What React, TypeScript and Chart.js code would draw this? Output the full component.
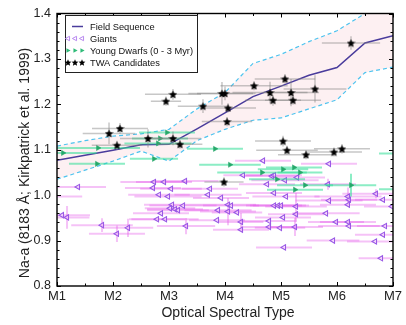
import React, { useEffect, useRef } from 'react';
import { Chart, registerables } from 'chart.js';

Chart.register(...registerables);

// ---------- axes ----------
const xTickValues = [1, 2, 3, 4, 5, 6, 7];
const xTickLabels = ['M1', 'M2', 'M3', 'M4', 'M5', 'M6', 'M7'];
const yTickValues = [0.8, 0.9, 1.0, 1.1, 1.2, 1.3, 1.4];

// ---------- field sequence and its envelope ----------
const fieldX = [1, 1.5, 2, 2.5, 3, 3.5, 4, 4.5, 5, 5.5, 6, 6.5, 7];
const fieldY = [1.077, 1.088, 1.099, 1.111, 1.112, 1.146, 1.181, 1.217, 1.24, 1.264, 1.281, 1.335, 1.351];
const upperY = [1.108, 1.12, 1.13, 1.135, 1.145, 1.19, 1.226, 1.29, 1.31, 1.338, 1.362, 1.4, 1.43];
const lowerY = [1.035, 1.055, 1.075, 1.097, 1.075, 1.12, 1.145, 1.165, 1.17, 1.19, 1.21, 1.27, 1.282];

// ---------- giants ----------
const giantX = [
  1.089, 1.179, 1.375, 1.804, 2.268, 2.071, 2.732, 2.911, 3.286, 2.714,
  3.036, 3.732, 2.821, 2.982, 3.696, 3.929, 3.054, 3.25, 3.018, 3.107,
  3.161, 3.875, 4.054, 4.054, 2.857, 2.786, 2.929, 3.857, 3.304, 0.9,
  4.679, 5.857, 4.321, 4.839, 4.875, 5.286, 4.75, 5.071, 5.839, 4.875,
  5.089, 4.107, 4.214, 6.196, 6.214, 6.696, 6.821, 5.857, 4.875, 4.946,
  5.0, 5.268, 5.804, 5.268, 5.036, 4.286, 4.786, 5.982, 6.196, 5.25,
  4.786, 4.982, 6.214, 4.286, 5.929, 6.679, 6.821, 6.857, 5.054, 6.786,
  6.982, 6.196,
];
const giantY = [
  0.956, 0.951, 1.018, 0.934, 0.928, 0.915, 1.029, 1.029, 1.031, 1.016,
  1.014, 1.014, 1.001, 0.997, 1.001, 0.994, 0.979, 0.977, 0.971, 0.969,
  0.967, 0.967, 0.964, 0.979, 0.96, 0.947, 0.947, 0.945, 0.932, 0.997,
  1.076, 1.069, 1.044, 1.042, 1.044, 1.039, 1.024, 1.033, 1.024, 1.005,
  0.997, 0.977, 0.962, 0.997, 0.99, 1.003, 0.99, 0.988, 0.977, 0.977,
  0.977, 0.975, 0.96, 0.958, 0.951, 0.941, 0.943, 0.941, 0.941, 0.93,
  0.93, 0.928, 0.932, 0.924, 0.9, 0.898, 0.913, 0.932, 0.885, 0.861,
  0.975, 0.979,
];
const giantXErr = [
  0.5, 0.4, 0.5, 0.55, 0.45, 0.5, 0.6, 0.5, 0.6, 0.5,
  0.55, 0.5, 0.55, 0.6, 0.6, 0.5, 0.5, 0.6, 0.45, 0.5,
  0.55, 0.6, 0.5, 0.5, 0.5, 0.5, 0.6, 0.5, 0.52, 0.55,
  0.5, 0.5, 0.35, 0.5, 0.5, 0.5, 0.5, 0.6, 0.5, 0.5,
  0.6, 0.5, 0.45, 0.6, 0.5, 0.6, 0.5, 0.6, 0.5, 0.5,
  0.5, 0.55, 0.6, 0.5, 0.5, 0.4, 0.5, 0.5, 0.5, 0.5,
  0.5, 0.45, 0.55, 0.5, 0.47, 0.5, 0.5, 0.5, 0.5, 0.4,
  0.5, 0.5,
];
const giantYErr = [
  0, 0.025, 0, 0.015, 0.02, 0.018, 0, 0, 0, 0,
  0, 0, 0, 0, 0, 0, 0, 0, 0, 0,
  0, 0, 0.03, 0, 0, 0, 0, 0, 0.018, 0,
  0, 0, 0, 0, 0, 0, 0, 0, 0.012, 0,
  0, 0, 0, 0.02, 0, 0.01, 0, 0, 0, 0,
  0, 0.03, 0, 0, 0, 0.02, 0, 0, 0, 0.02,
  0, 0, 0, 0, 0, 0, 0, 0, 0, 0,
  0, 0,
];

// ---------- young dwarfs ----------
const youngX = [1.107, 1.732, 1.714, 2.732, 2.839, 2.804, 2.964, 3.821, 4.089, 5.036, 5.232, 4.661, 5.339, 4.929, 5.429, 6.25, 5.25, 7.15, 7.15];
const youngY = [1.093, 1.104, 1.069, 1.08, 1.125, 1.114, 1.138, 1.102, 1.067, 1.057, 1.061, 1.05, 1.05, 1.035, 1.022, 1.022, 1.012, 1.092, 1.013];
const youngXErr = [0.6, 0.75, 0.5, 0.43, 0.5, 0.6, 0.5, 0.5, 0.55, 0.45, 0.5, 0.8, 0.4, 0.5, 0.5, 0.45, 0.5, 0.4, 0.4];
const youngYErr = [0, 0, 0, 0, 0, 0, 0, 0, 0, 0, 0, 0, 0, 0, 0, 0.025, 0, 0, 0];

// ---------- TWA candidates ----------
const twaX = [1.929, 2.125, 2.071, 2.625, 3.071, 3.196, 3.071, 2.946, 3.607, 3.946, 4.0, 4.054, 4.036, 4.518, 4.804, 4.857, 5.071, 5.179, 5.214, 5.607, 6.25, 3.982, 5.036, 5.107, 5.446, 5.946, 6.089];
const twaY = [1.136, 1.147, 1.11, 1.125, 1.125, 1.112, 1.222, 1.207, 1.196, 1.224, 1.224, 1.192, 1.162, 1.241, 1.226, 1.209, 1.256, 1.226, 1.209, 1.234, 1.335, 1.029, 1.119, 1.099, 1.089, 1.095, 1.102];
const twaXErr = [0.47, 0.5, 0.45, 0.5, 0.5, 0.4, 0.5, 0.27, 0.45, 0.6, 0.5, 0.5, 0.45, 0.6, 0.67, 0.5, 0.54, 0.5, 0.5, 0.56, 0.52, 0.35, 0.5, 0.55, 0.5, 0.5, 0.5];
const twaYErr = [0.024, 0.012, 0.01, 0.02, 0.015, 0.01, 0.012, 0.01, 0.015, 0.025, 0.015, 0.01, 0.01, 0.01, 0.024, 0.012, 0.01, 0.03, 0.01, 0.03, 0.015, 0.01, 0.012, 0.01, 0.01, 0.01, 0.01];

const FONT = '"Liberation Sans", Arial, Helvetica, sans-serif';
const FIELD_COLOR = '#4a3c9c';
const BOUND_COLOR = '#4cc3ef';
const FILL_COLOR = '#fdf0f2';
const GIANT_COLOR = '#9a5ae6';
const GIANT_BAR = 'rgba(230, 95, 235, 0.38)';
const YOUNG_COLOR = '#27a86a';
const YOUNG_BAR = 'rgba(45, 222, 150, 0.55)';
const TWA_BAR = 'rgba(130, 130, 130, 0.45)';

const pts = (xs: number[], ys: number[]) => xs.map((x, i) => ({ x, y: ys[i] }));

function starPath(ctx: CanvasRenderingContext2D, cx: number, cy: number, R: number) {
  const r = R * 0.45;
  ctx.beginPath();
  for (let i = 0; i < 10; i++) {
    const ang = -Math.PI / 2 + (i * Math.PI) / 5;
    const rad = i % 2 === 0 ? R : r;
    const px = cx + rad * Math.cos(ang);
    const py = cy + rad * Math.sin(ang);
    if (i === 0) ctx.moveTo(px, py);
    else ctx.lineTo(px, py);
  }
  ctx.closePath();
}

function makeStar(size: number, color: string) {
  const c = document.createElement('canvas');
  c.width = size;
  c.height = size;
  const g = c.getContext('2d')!;
  starPath(g, size / 2, size / 2 + 0.4, size / 2);
  g.fillStyle = color;
  g.fill();
  return c;
}

function triangle(ctx: CanvasRenderingContext2D, cx: number, cy: number, r: number, dir: number) {
  ctx.beginPath();
  ctx.moveTo(cx + dir * r, cy);
  ctx.lineTo(cx - dir * r * 0.6, cy - r * 0.85);
  ctx.lineTo(cx - dir * r * 0.6, cy + r * 0.85);
  ctx.closePath();
}

const errorBarPlugin = {
  id: 'errorBars',
  beforeDatasetDraw(chart: any, args: any) {
    const ds: any = chart.data.datasets[args.index];
    if (!ds.errX) return;
    const xs = chart.scales.x;
    const ys = chart.scales.y;
    const a = chart.chartArea;
    const ctx: CanvasRenderingContext2D = chart.ctx;
    ctx.save();
    ctx.beginPath();
    ctx.rect(a.left, a.top, a.right - a.left, a.bottom - a.top);
    ctx.clip();
    ctx.strokeStyle = ds.errColor;
    ctx.lineWidth = ds.errWidth;
    ds.data.forEach((p: any, i: number) => {
      const ex = ds.errX[i];
      const ey = ds.errY[i];
      const cx = xs.getPixelForValue(p.x);
      const cy = ys.getPixelForValue(p.y);
      if (ex > 0) {
        ctx.beginPath();
        ctx.moveTo(xs.getPixelForValue(p.x - ex), cy);
        ctx.lineTo(xs.getPixelForValue(p.x + ex), cy);
        ctx.stroke();
      }
      if (ey > 0) {
        ctx.beginPath();
        ctx.moveTo(cx, ys.getPixelForValue(p.y - ey));
        ctx.lineTo(cx, ys.getPixelForValue(p.y + ey));
        ctx.stroke();
      }
    });
    ctx.restore();
  },
};

const framePlugin = {
  id: 'frameAndLegend',
  afterDraw(chart: any) {
    const ctx: CanvasRenderingContext2D = chart.ctx;
    const a = chart.chartArea;
    const xs = chart.scales.x;
    const ys = chart.scales.y;
    ctx.save();
    ctx.strokeStyle = '#000';
    ctx.lineWidth = 1;
    const seg = (x1: number, y1: number, x2: number, y2: number) => {
      ctx.beginPath();
      ctx.moveTo(x1, y1);
      ctx.lineTo(x2, y2);
      ctx.stroke();
    };
    const xMin = xTickValues[0];
    const xMax = xTickValues[xTickValues.length - 1];
    for (let v = xMin; v <= xMax + 1e-6; v += 0.5) {
      const px = Math.round(xs.getPixelForValue(v)) + 0.5;
      const major = Math.abs(v - Math.round(v)) < 1e-6;
      const len = major ? 4 : 2.5;
      seg(px, a.bottom, px, a.bottom - len);
      seg(px, a.top, px, a.top + len);
    }
    const yMin = yTickValues[0];
    const yMax = yTickValues[yTickValues.length - 1];
    const nMinor = Math.round((yMax - yMin) / 0.02);
    for (let i = 0; i <= nMinor; i++) {
      const v = yMin + i * 0.02;
      const py = Math.round(ys.getPixelForValue(v)) + 0.5;
      const len = i % 5 === 0 ? 4 : 2.5;
      seg(a.left, py, a.left + len, py);
      seg(a.right, py, a.right - len, py);
    }
    ctx.lineWidth = 1.4;
    ctx.strokeRect(a.left, a.top, a.right - a.left, a.bottom - a.top);

    // axis titles
    ctx.fillStyle = '#222';
    ctx.font = `14px ${FONT}`;
    ctx.textAlign = 'center';
    ctx.textBaseline = 'middle';
    ctx.fillText('Optical Spectral Type', (a.left + a.right) / 2 + 3, 313);
    ctx.save();
    ctx.translate(25, 163);
    ctx.rotate(-Math.PI / 2);
    ctx.fillText('Na-a (8183 Å; Kirkpatrick et al. 1999)', 0, 0);
    ctx.restore();

    // legend
    const lx = 65.5, ly = 15.5, lw = 132, lh = 57;
    ctx.fillStyle = '#fff';
    ctx.fillRect(lx, ly, lw, lh);
    ctx.lineWidth = 1;
    ctx.strokeStyle = '#222';
    ctx.strokeRect(lx, ly, lw, lh);
    const rows = [26.5, 38.5, 50.5, 62.5];
    const labels = ['Field Sequence', 'Giants', 'Young Dwarfs (0 - 3 Myr)', 'TWA Candidates'];
    ctx.font = `9.3px ${FONT}`;
    ctx.textAlign = 'left';
    ctx.fillStyle = '#111';
    labels.forEach((t, i) => ctx.fillText(t, 90, rows[i] + 0.5));
    ctx.strokeStyle = FIELD_COLOR;
    ctx.lineWidth = 1.5;
    seg(72, rows[0], 83, rows[0]);
    ctx.strokeStyle = '#b98af0';
    ctx.lineWidth = 1;
    [68, 75, 82].forEach((x) => {
      triangle(ctx, x, rows[1], 2.6, -1);
      ctx.stroke();
    });
    ctx.fillStyle = '#2fbb78';
    [68, 75, 82].forEach((x) => {
      triangle(ctx, x, rows[2], 2.6, 1);
      ctx.fill();
    });
    ctx.fillStyle = '#000';
    [68, 75, 82].forEach((x) => {
      starPath(ctx, x, rows[3] + 0.3, 3.6);
      ctx.fill();
    });
    ctx.restore();
  },
};

export default function App() {
  const ref = useRef<HTMLCanvasElement>(null);

  useEffect(() => {
    if (!ref.current) return;
    const star = makeStar(9, '#000');
    const chart = new Chart(ref.current, {
      type: 'scatter',
      data: {
        datasets: [
          {
            label: 'TWA Candidates',
            data: pts(twaX, twaY),
            pointStyle: star as any,
            pointRadius: 4.5,
            errX: twaXErr,
            errY: twaYErr,
            errColor: TWA_BAR,
            errWidth: 1.5,
          } as any,
          {
            label: 'Young Dwarfs (0 - 3 Myr)',
            data: pts(youngX, youngY),
            pointStyle: 'triangle',
            rotation: 90,
            pointRadius: 3,
            backgroundColor: YOUNG_COLOR,
            borderColor: YOUNG_COLOR,
            borderWidth: 0.5,
            errX: youngXErr,
            errY: youngYErr,
            errColor: YOUNG_BAR,
            errWidth: 2,
          } as any,
          {
            label: 'Giants',
            data: pts(giantX, giantY),
            pointStyle: 'triangle',
            rotation: -90,
            pointRadius: 3,
            backgroundColor: 'rgba(255,255,255,0.3)',
            borderColor: GIANT_COLOR,
            borderWidth: 1.1,
            errX: giantXErr,
            errY: giantYErr,
            errColor: GIANT_BAR,
            errWidth: 2,
          } as any,
          {
            label: 'Field Sequence',
            data: pts(fieldX, fieldY),
            showLine: true,
            pointRadius: 0,
            borderColor: FIELD_COLOR,
            borderWidth: 1.5,
            fill: false,
          },
          {
            label: 'lower',
            data: pts(fieldX, lowerY),
            showLine: true,
            pointRadius: 0,
            borderColor: BOUND_COLOR,
            borderWidth: 1.2,
            borderDash: [4, 3],
            fill: false,
          },
          {
            label: 'upper',
            data: pts(fieldX, upperY),
            showLine: true,
            pointRadius: 0,
            borderColor: BOUND_COLOR,
            borderWidth: 1.2,
            borderDash: [4, 3],
            fill: '-1',
            backgroundColor: FILL_COLOR,
          },
        ],
      },
      options: {
        animation: false,
        responsive: false,
        events: [],
        layout: { padding: { top: 7, right: 13, left: 0, bottom: 0 } },
        plugins: {
          legend: { display: false },
          tooltip: { enabled: false },
        },
        scales: {
          x: {
            type: 'linear',
            min: xTickValues[0],
            max: xTickValues[xTickValues.length - 1],
            grid: { display: false, drawTicks: false },
            border: { display: false },
            afterFit: (s: any) => {
              s.height = 39;
            },
            afterBuildTicks: (s: any) => {
              s.ticks = xTickValues.map((v) => ({ value: v }));
            },
            ticks: {
              padding: 3,
              color: '#222',
              font: { family: FONT, size: 13 },
              maxRotation: 0,
              callback: (v: any) => xTickLabels[xTickValues.indexOf(Number(v))] ?? '',
            },
          },
          y: {
            type: 'linear',
            min: yTickValues[0],
            max: yTickValues[yTickValues.length - 1],
            grid: { display: false, drawTicks: false },
            border: { display: false },
            afterFit: (s: any) => {
              s.width = 57;
            },
            afterBuildTicks: (s: any) => {
              s.ticks = yTickValues.map((v) => ({ value: v }));
            },
            ticks: {
              padding: 6,
              color: '#222',
              font: { family: FONT, size: 12.5 },
              callback: (v: any) => Number(v).toFixed(1),
            },
          },
        },
      },
      plugins: [errorBarPlugin, framePlugin],
    } as any);
    return () => chart.destroy();
  }, []);

  return (
    <div style={{ position: 'absolute', left: 0, top: 0, width: 406, height: 325, background: '#fff' }}>
      <canvas ref={ref} width={406} height={325} style={{ width: 406, height: 325 }} />
    </div>
  );
}
